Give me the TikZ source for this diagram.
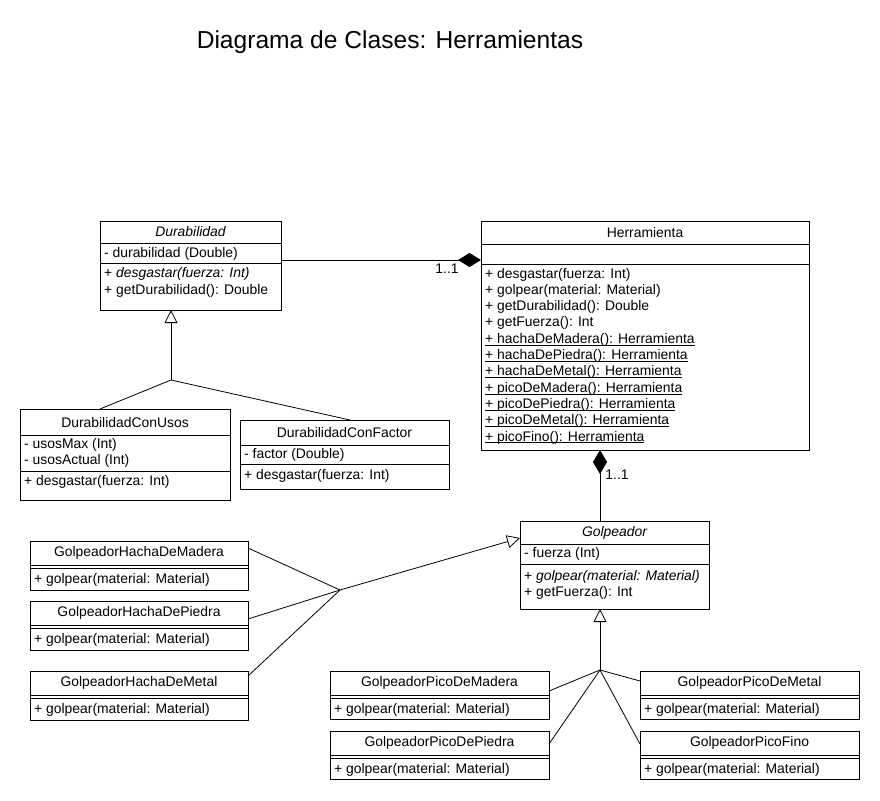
\documentclass[tikz,border=0pt]{standalone}
\usepackage{fontspec}
\setmainfont{Liberation Sans}
\newcommand\myul[1]{\leavevmode\setbox0\hbox{#1}\rlap{\copy0}\rule[-2.2pt]{\wd0}{0.8pt}}
\usetikzlibrary{arrows.meta,calc}
\begin{document}
\begin{tikzpicture}[x=1pt,y=-1pt,
  cls/.style={draw, line width=0.8pt, anchor=north west, inner sep=0pt, outer sep=0pt},
  sepl/.style={line width=0.8pt},
  txt/.style={font=\fontsize{13.9}{16}\selectfont, inner sep=0pt},
  mem/.style={txt, anchor=west},
  conn/.style={line width=0.8pt},
  gen/.style={conn, -{Triangle[open, length=13pt, width=13pt]}},
  comp/.style={conn, -{Diamond[length=23pt, width=14pt]}},
  compr/.style={conn, {Diamond[length=24pt, width=14pt]}-},
]
\useasboundingbox (0,0) rectangle (880,800);

\node[txt, font=\fontsize{24.6}{28}\selectfont] (title) at (390,42) {Diagrama de Clases: Herramientas};

% Durabilidad
\node[cls, minimum width=181pt, minimum height=89pt] (dur) at (100,221) {};
\draw[sepl] (100,243) -- (281,243);
\draw[sepl] (100,263) -- (281,263);
\node[txt, font=\fontsize{13.9}{16}\selectfont\itshape] (durT) at (190.5,232) {Durabilidad};
\node[mem] (durA) at (104,254) {- durabilidad (Double)};
\node[mem] (durM1) at (104,274) {+ \textit{desgastar(fuerza: Int)}};
\node[mem] (durM2) at (104,291) {+ getDurabilidad(): Double};

% Herramienta
\node[cls, minimum width=328pt, minimum height=229pt] (her) at (481,221) {};
\draw[sepl] (481,244) -- (809,244);
\draw[sepl] (481,264) -- (809,264);
\node[txt] (herT) at (645,233) {Herramienta};
\node[mem] (herM1) at (485,274.5) {+ desgastar(fuerza: Int)};
\node[mem] (herM2) at (485,290.8) {+ golpear(material: Material)};
\node[mem] (herM3) at (485,307.1) {+ getDurabilidad(): Double};
\node[mem] (herM4) at (485,323.4) {+ getFuerza(): Int};
\node[mem] (herM5) at (485,339.7) {\myul{+ hachaDeMadera(): Herramienta}};
\node[mem] (herM6) at (485,356.0) {\myul{+ hachaDePiedra(): Herramienta}};
\node[mem] (herM7) at (485,372.3) {\myul{+ hachaDeMetal(): Herramienta}};
\node[mem] (herM8) at (485,388.6) {\myul{+ picoDeMadera(): Herramienta}};
\node[mem] (herM9) at (485,404.9) {\myul{+ picoDePiedra(): Herramienta}};
\node[mem] (herM10) at (485,421.2) {\myul{+ picoDeMetal(): Herramienta}};
\node[mem] (herM11) at (485,437.5) {\myul{+ picoFino(): Herramienta}};

% DurabilidadConUsos
\node[cls, minimum width=210pt, minimum height=91pt] (durU) at (20,409) {};
\draw[sepl] (20,435) -- (230,435);
\draw[sepl] (20,471) -- (230,471);
\node[txt] (durUT) at (125,423) {DurabilidadConUsos};
\node[mem] (durUA1) at (24,445) {- usosMax (Int)};
\node[mem] (durUA2) at (24,461) {- usosActual (Int)};
\node[mem] (durUM1) at (24,482) {+ desgastar(fuerza: Int)};

% DurabilidadConFactor
\node[cls, minimum width=209pt, minimum height=69pt] (durF) at (240,420) {};
\draw[sepl] (240,445) -- (449,445);
\draw[sepl] (240,464) -- (449,464);
\node[txt] (durFT) at (344.5,433) {DurabilidadConFactor};
\node[mem] (durFA1) at (244,455) {- factor (Double)};
\node[mem] (durFM1) at (244,476) {+ desgastar(fuerza: Int)};

% Golpeador
\node[cls, minimum width=189pt, minimum height=88pt] (golp) at (520,521) {};
\draw[sepl] (520,544) -- (709,544);
\draw[sepl] (520,564) -- (709,564);
\node[txt, font=\fontsize{13.9}{16}\selectfont\itshape] (golpT) at (614.5,533) {Golpeador};
\node[mem] (golpA1) at (524,554) {- fuerza (Int)};
\node[mem] (golpM1) at (524,577) {+ \textit{golpear(material: Material)}};
\node[mem] (golpM2) at (524,593) {+ getFuerza(): Int};

% Hacha classes
\node[cls, minimum width=218pt, minimum height=49pt] (hM) at (30,541) {};
\draw[sepl] (30,565) -- (248,565);
\draw[sepl] (30,568) -- (248,568);
\node[txt] (hMT) at (139,553) {GolpeadorHachaDeMadera};
\node[mem] (hMM) at (34,579.5) {+ golpear(material: Material)};

\node[cls, minimum width=218pt, minimum height=49pt] (hP) at (30,601) {};
\draw[sepl] (30,625) -- (248,625);
\draw[sepl] (30,628) -- (248,628);
\node[txt] (hPT) at (139,613) {GolpeadorHachaDePiedra};
\node[mem] (hPM) at (34,639.5) {+ golpear(material: Material)};

\node[cls, minimum width=218pt, minimum height=49pt] (hMe) at (30,671) {};
\draw[sepl] (30,695) -- (248,695);
\draw[sepl] (30,698) -- (248,698);
\node[txt] (hMeT) at (139,683) {GolpeadorHachaDeMetal};
\node[mem] (hMeM) at (34,709.5) {+ golpear(material: Material)};

% Pico classes
\node[cls, minimum width=219pt, minimum height=48pt] (pM) at (330,671) {};
\draw[sepl] (330,695) -- (549,695);
\draw[sepl] (330,698) -- (549,698);
\node[txt] (pMT) at (439.5,683) {GolpeadorPicoDeMadera};
\node[mem] (pMM) at (334,709.5) {+ golpear(material: Material)};

\node[cls, minimum width=219pt, minimum height=48pt] (pP) at (330,731) {};
\draw[sepl] (330,755) -- (549,755);
\draw[sepl] (330,758) -- (549,758);
\node[txt] (pPT) at (439.5,743) {GolpeadorPicoDePiedra};
\node[mem] (pPM) at (334,769.5) {+ golpear(material: Material)};

\node[cls, minimum width=219pt, minimum height=48pt] (pMe) at (640,671) {};
\draw[sepl] (640,695) -- (859,695);
\draw[sepl] (640,698) -- (859,698);
\node[txt] (pMeT) at (749.5,683) {GolpeadorPicoDeMetal};
\node[mem] (pMeM) at (644,709.5) {+ golpear(material: Material)};

\node[cls, minimum width=219pt, minimum height=48pt] (pF) at (640,731) {};
\draw[sepl] (640,755) -- (859,755);
\draw[sepl] (640,758) -- (859,758);
\node[txt] (pFT) at (749.5,743) {GolpeadorPicoFino};
\node[mem] (pFM) at (644,769.5) {+ golpear(material: Material)};

% Composition Durabilidad -> Herramienta
\draw[comp] ([yshift=5.5pt]dur.east) -- ([yshift=75.5pt]her.west);
\node[txt] (l1) at (447,268.5) {1..1};
% Composition Golpeador -> Herramienta
\draw[compr] ([xshift=-45pt]her.south) -- ([xshift=-14.5pt]golp.north);
\node[txt] (l2) at (617,474.5) {1..1};

% Generalization to Durabilidad
\coordinate (j1) at (171,380);
\draw[gen] (j1) -- ([xshift=-19.5pt]dur.south);
\draw[conn] ([xshift=-25pt]durU.north) -- (j1) -- ([xshift=5.5pt]durF.north);

% Generalization Hacha -> Golpeador
\coordinate (j2) at (340,590);
\draw[gen] (j2) -- ([yshift=27pt]golp.west);
\draw[conn] ([yshift=17.5pt]hM.east) -- (j2);
\draw[conn] ([yshift=6.5pt]hP.east) -- (j2);
\draw[conn] ([yshift=19.5pt]hMe.east) -- (j2);

% Generalization Pico -> Golpeador
\coordinate (j3) at (600,670);
\draw[gen] (j3) -- ([xshift=-14.5pt]golp.south);
\draw[conn] ([yshift=4pt]pM.east) -- (j3);
\draw[conn] ([yshift=11pt]pP.east) -- (j3);
\draw[conn] ([yshift=14pt]pMe.west) -- (j3);
\draw[conn] ([yshift=11pt]pF.west) -- (j3);
\end{tikzpicture}
\end{document}
